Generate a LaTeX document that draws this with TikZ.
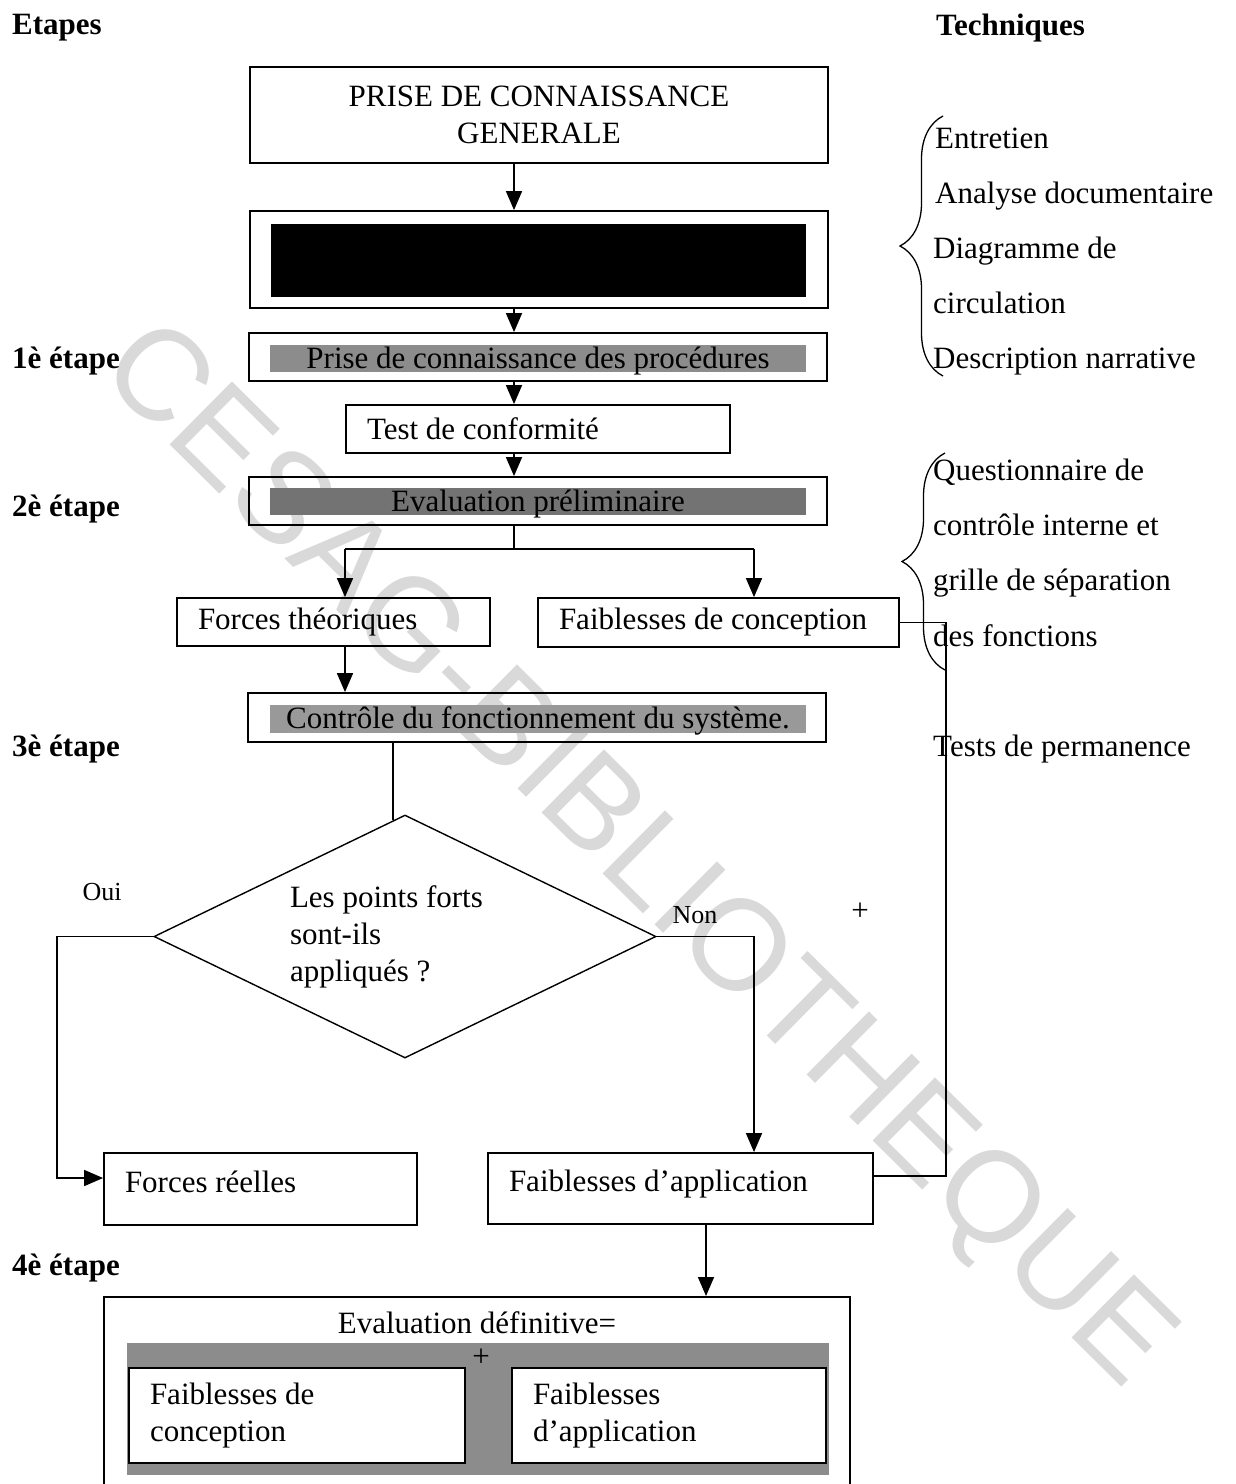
\documentclass[tikz,border=0pt]{standalone}
\usepackage{fontspec}
\setmainfont{Liberation Serif}
\newfontfamily\wmfont{Liberation Sans}
\usetikzlibrary{arrows.meta,calc,shapes.geometric,decorations.pathreplacing}

\begin{document}
\begin{tikzpicture}[
 x=1pt,y=-1pt,
 txt/.style={font=\fontsize{31}{37}\selectfont},
 box/.style={draw,line width=1.8pt,txt,inner sep=0pt},
 lbox/.style={box,align=flush left,inner xsep=21pt},
 band/.style={fill=black!45,inner sep=0pt,txt,text height=23pt,text depth=4pt},
 stage/.style={font=\fontsize{31}{37}\selectfont\bfseries,anchor=base west,inner sep=0pt},
 tech/.style={txt,anchor=base west,inner sep=0pt},
 small/.style={font=\fontsize{26}{30}\selectfont,inner sep=0pt},
 flow/.style={-{Triangle[length=19pt,width=16pt]},line width=1.6pt},
 link/.style={line width=1.6pt},
 curly/.style={decorate,decoration={brace,amplitude=43pt},line width=1.3pt}]
\useasboundingbox (0,0) rectangle (1235,1484);
\node[font=\wmfont\fontsize{129}{129}\selectfont,text=black!15,rotate=-44.7,inner sep=0pt] (wm) at (634,858) {CESAG-BIBLIOTHEQUE};
% column heads and steps
\node[stage] (hstep) at (12,34) {Etapes};
\node[stage] (htech) at (936,35) {Techniques};
\node[stage] (st1) at (12,368) {1è étape};
\node[stage] (st2) at (12,516) {2è étape};
\node[stage] (st3) at (12,756) {3è étape};
\node[stage] (st4) at (12,1275) {4è étape};
% main column
\node[box,align=center,minimum width=578pt,minimum height=96pt] (gen) at (539,115) {PRISE DE CONNAISSANCE\\GENERALE};
\node[box,minimum width=578pt,minimum height=97pt] (blk) at (539,259.5) {};
\node[fill=black,inner sep=0pt,minimum width=535pt,minimum height=73pt] (mask) at (538.5,260.5) {};
\node[box,minimum width=578pt,minimum height=48pt] (proc) at (538,357) {};
\node[band,minimum width=536pt,minimum height=27pt] (procband) at (538,358.5) {Prise de connaissance des procédures};
\node[lbox,text width=342pt,minimum height=48pt] (test) at (538,429) {Test de conformité};
\node[box,minimum width=578pt,minimum height=48pt] (prelim) at (538,501) {};
\node[band,fill=black!55,minimum width=536pt,minimum height=27pt] (prelimband) at (538,501.5) {Evaluation préliminaire};
\node[lbox,text width=271pt,minimum height=48pt] (fth) at (333.5,622) {Forces théoriques};
\node[lbox,text width=319pt,minimum height=49pt] (fdc) at (718.5,622.5) {Faiblesses de conception};
\node[box,minimum width=578pt,minimum height=49pt] (ctrl) at (537,717.5) {};
\node[band,fill=black!40,minimum width=536pt,minimum height=28pt] (ctrlband) at (538,719) {Contrôle du fonctionnement du système.};
\node[diamond,draw,line width=1.4pt,shape aspect=2,inner sep=0pt,txt,align=flush left,text width=230pt,minimum width=502pt,minimum height=243pt] (dec) at (405,936.5) {Les points forts\\sont-ils\\appliqués ?};
\node[lbox,text width=271pt,text depth=15pt,minimum height=72pt] (freel) at (260.5,1189) {Forces réelles};
\node[lbox,text width=343pt,text depth=15pt,minimum height=71pt] (fapp) at (680.5,1188.5) {Faiblesses d’application};
\node[box,anchor=north,minimum width=746pt,minimum height=210pt] (evdef) at (477,1296) {};
\node[txt,inner sep=0pt] (evtitle) at (477,1323) {Evaluation définitive=};
\node[fill=black!45,inner sep=0pt,minimum width=702pt,minimum height=132pt] (evband) at (478,1409) {};
\node[lbox,fill=white,text width=294pt,minimum height=95pt] (evcon) at (297,1415.5) {Faiblesses de\\conception};
\node[lbox,fill=white,text width=272pt,minimum height=95pt] (evapp) at (669,1415.5) {Faiblesses\\d’application};
\node[txt,inner sep=0pt] (plus) at (481,1358) {+};
% techniques
\node[tech] (tq1) at (935,148) {Entretien};
\node[tech] (tq2) at (935,203) {Analyse documentaire};
\node[tech] (tq3) at (933,258) {Diagramme de};
\node[tech] (tq4) at (933,313) {circulation};
\node[tech] (tq5) at (933,368) {Description narrative};
\node[tech] (tr1) at (933,480) {Questionnaire de};
\node[tech] (tr2) at (933,535) {contrôle interne et};
\node[tech] (tr3) at (933,590) {grille de séparation};
\node[tech] (tr4) at (933,646) {des fonctions};
\node[tech] (tperm) at (933,756) {Tests de permanence};
\draw[curly] (943,376) -- (943,116);
\draw[curly] (945,670) -- (945,453);
% labels of the test
\node[small] (oui) at (102,892) {Oui};
\node[small] (non) at (695,915) {Non};
\node[txt,inner sep=0pt] (plusr) at (860,912) {+};
% connectors
\coordinate (spine) at (514,0);
\coordinate (sl) at (345,549);
\coordinate (sr) at (754,549);
\coordinate (ouicorner) at (57,1178);
\coordinate (rj) at (946,1176);
\coordinate (down) at (706,0);
\coordinate (dtop) at ($(dec.north)!0.048!(dec.west)$);
\draw[flow] (spine |- gen.south) -- (spine |- blk.north);
\draw[flow] (spine |- blk.south) -- (spine |- proc.north);
\draw[flow] (spine |- proc.south) -- (spine |- test.north);
\draw[flow] (spine |- test.south) -- (spine |- prelim.north);
\draw[link] (spine |- prelim.south) -- (spine |- sl);
\draw[link] (sl) -- (sr);
\draw[flow] (sl) -- (sl |- fth.north);
\draw[flow] (sr) -- (sr |- fdc.north);
\draw[flow] (sl |- fth.south) -- (sl |- ctrl.north);
\draw[link] (dtop |- ctrl.south) -- (dtop);
\draw[flow] (dec.west) -| (ouicorner) -- (ouicorner -| freel.west);
\draw[flow] (dec.east) -| (sr |- fapp.north);
\draw[link] (fdc.east) -| (rj) -- (rj -| fapp.east);
\draw[flow] (down |- fapp.south) -- (down |- evdef.north);
\end{tikzpicture}
\end{document}
